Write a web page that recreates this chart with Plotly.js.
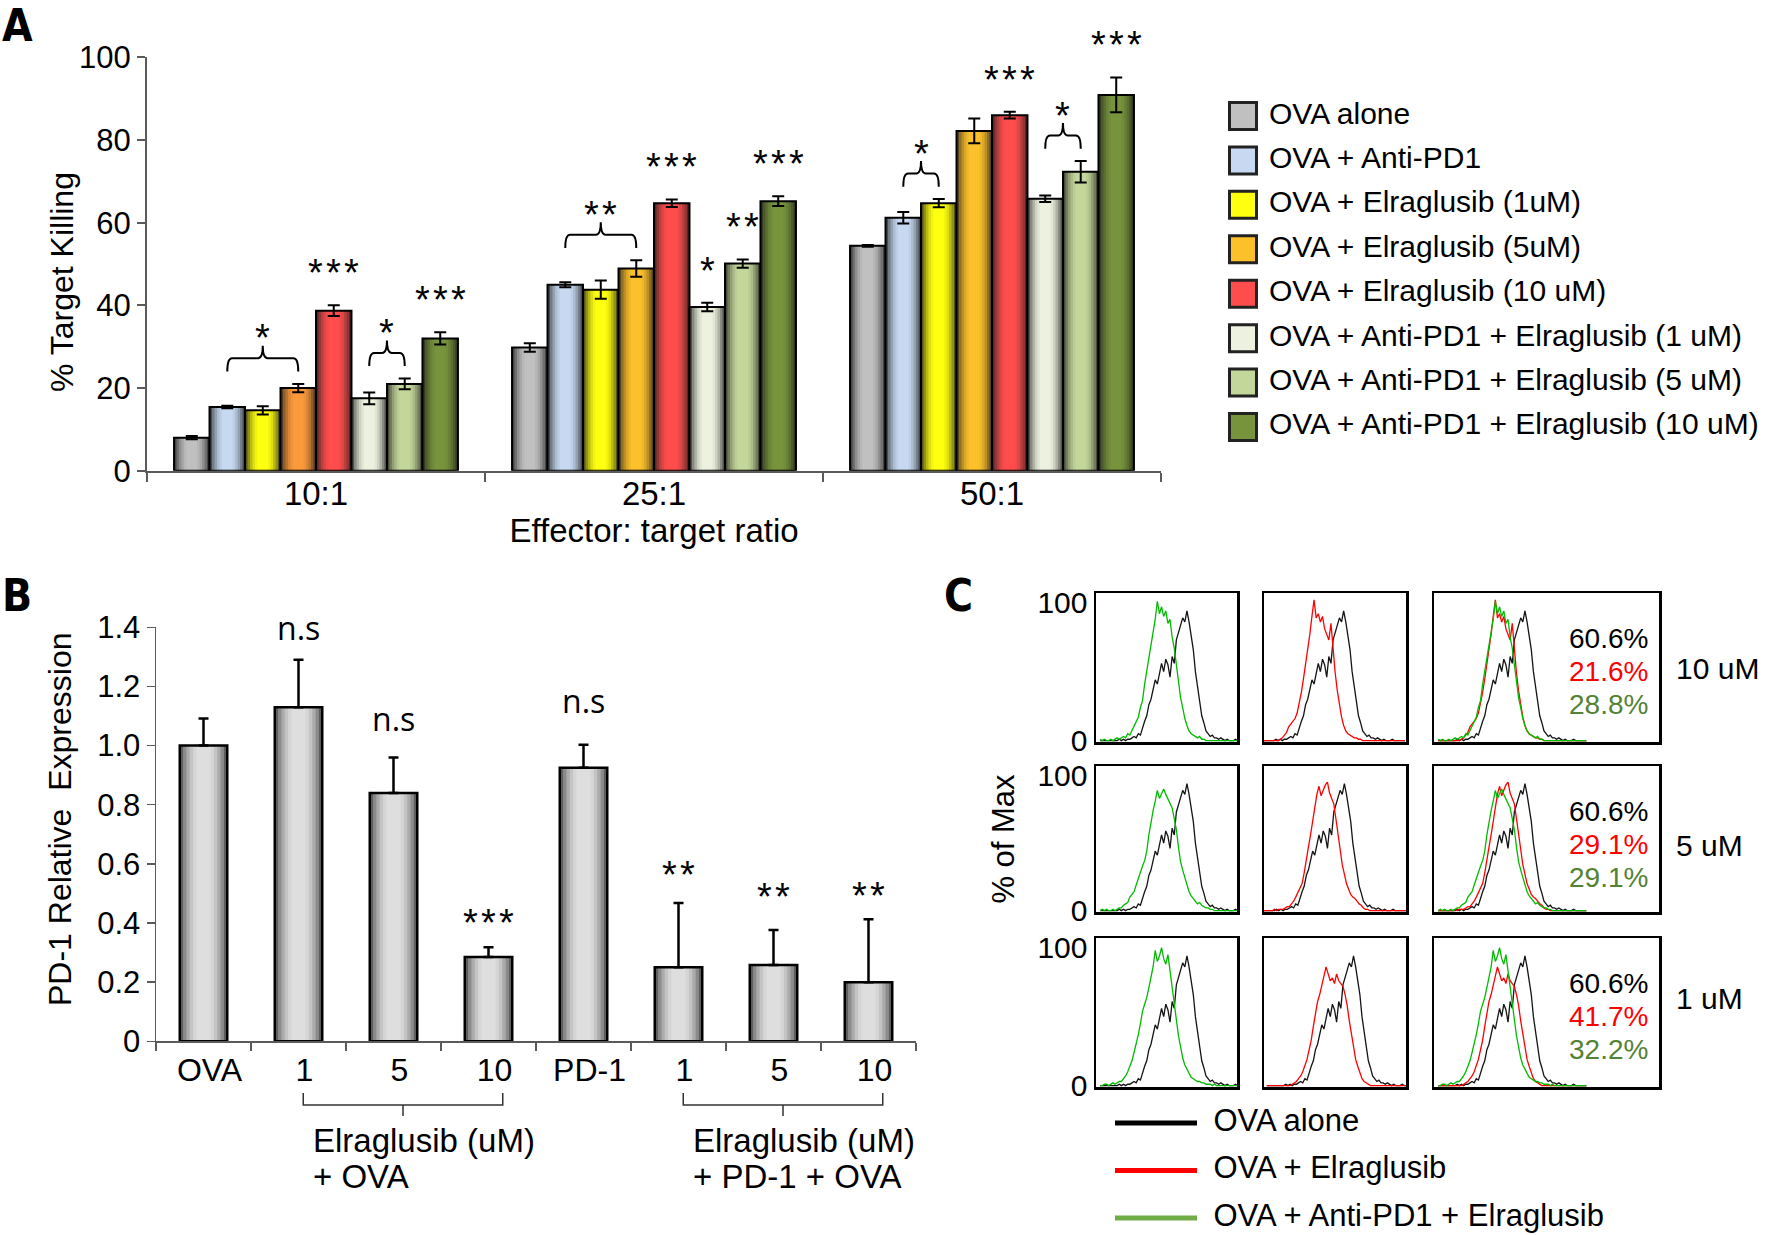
<!DOCTYPE html>
<html>
<head>
<meta charset="utf-8">
<script src="https://cdn.plot.ly/plotly-3.0.1.min.js"></script>
<style>
html, body { margin:0; padding:0; background:#ffffff; }
#fig { width:1771px; height:1235px; }
</style>
</head>
<body>
<div id="fig"></div>
<script>
// ======================= DATA =======================
// ---- Panel A : % target killing ----
const ratios = ['10:1', '25:1', '50:1'];
const seriesNames = [
  'OVA alone',
  'OVA + Anti-PD1',
  'OVA + Elraglusib (1uM)',
  'OVA + Elraglusib (5uM)',
  'OVA + Elraglusib (10 uM)',
  'OVA + Anti-PD1 + Elraglusib (1 uM)',
  'OVA + Anti-PD1 + Elraglusib (5 uM)',
  'OVA + Anti-PD1 + Elraglusib (10 uM)'
];
const killOvaAlone = [8.0, 29.8, 54.4];
const killAntiPD1  = [15.4, 45.0, 61.2];
const killElra1    = [14.6, 43.8, 64.7];
const killElra5    = [20.0, 48.9, 82.2];
const killElra10   = [38.7, 64.7, 86.0];
const killCombo1   = [17.5, 39.6, 65.8];
const killCombo5   = [21.0, 50.1, 72.3];
const killCombo10  = [32.0, 65.2, 90.9];
const errOvaAlone = [0.4, 1.0, 0.2];
const errAntiPD1  = [0.3, 0.6, 1.4];
const errElra1    = [1.0, 2.2, 1.0];
const errElra5    = [1.0, 2.0, 3.0];
const errElra10   = [1.3, 0.9, 0.8];
const errCombo1   = [1.4, 1.0, 0.8];
const errCombo5   = [1.3, 1.0, 2.6];
const errCombo10  = [1.5, 1.2, 4.2];
// significance marks (group index, first bar, last bar, label)
const sigGroup = [0, 0, 0, 0, 1, 1, 1, 1, 1, 2, 2, 2, 2];
const sigFrom  = [1, 4, 5, 7, 1, 4, 5, 6, 7, 1, 4, 5, 7];
const sigTo    = [3, 4, 6, 7, 3, 4, 5, 6, 7, 2, 4, 6, 7];
const sigLabel = ['*', '***', '*', '***', '**', '***', '*', '**', '***', '*', '***', '*', '***'];

// ---- Panel B : PD-1 relative expression ----
const pd1Labels   = ['OVA', '1', '5', '10', 'PD-1', '1', '5', '10'];
const pd1Values   = [1.00, 1.13, 0.84, 0.285, 0.925, 0.25, 0.258, 0.20];
const pd1ErrUp    = [0.092, 0.16, 0.12, 0.033, 0.078, 0.218, 0.118, 0.213];
const pd1Sig      = ['', 'n.s', 'n.s', '***', 'n.s', '**', '**', '**'];
const pd1TickVals = [0, 0.2, 0.4, 0.6, 0.8, 1.0, 1.2, 1.4];
const pd1TickText = ['0', '0.2', '0.4', '0.6', '0.8', '1.0', '1.2', '1.4'];
const pd1GroupLine1 = ['Elraglusib (uM)', 'Elraglusib (uM)'];
const pd1GroupLine2 = ['+ OVA', '+ PD-1 + OVA'];
const pd1GroupFrom  = [1, 5];
const pd1GroupTo    = [3, 7];

// ---- Panel C : flow histograms (% of max vs channel; bins start 3, step 1.5) ----
const concLabels = ['10 uM', '5 uM', '1 uM'];
const pctOvaAlone = ['60.6%', '60.6%', '60.6%'];
const pctElra     = ['21.6%', '29.1%', '41.7%'];
const pctCombo    = ['28.8%', '29.1%', '32.2%'];
const cLegendNames = ['OVA alone', 'OVA + Elraglusib', 'OVA + Anti-PD1 + Elraglusib'];
const histOvaAlone = [0,0,0,0,0,0,0,0,0,1, 0,1,0,1,1,2,3,2,5,4, 10,14,18,26,30,36,44,41,49,56,
  50,59,55,46,61,56,73,79,85,89, 86,94,86,77,66,50,39,28,18,13, 7,5,3,4,2,2,1,2,1,0, 1,0,0,0,1,0,0,0,0,0,0];
const histElra10 = [0,0,0,0,0,0,0,0,0,0, 0,1,2,4,6,10,12,14,16,20, 27,35,45,55,64,77,90,102,89,92,
  86,90,81,77,73,85,66,49,36,26, 17,11,7,5,4,3,2,2,1,1, 0,0,0,0,0,0,0,0,0,0, 0,0,0,0,0,0,0,0,0,0,0];
const histElra5 = [0,0,0,0,0,0,0,0,1,0, 1,1,1,2,3,3,5,7,10,13, 16,20,28,39,47,56,66,78,86,92,
  85,89,93,95,87,83,79,68,56,43, 34,27,20,16,12,10,9,7,5,4, 2,1,1,0,0,0,0,0,0,0, 0,0,0,0,0,0,0,0,0,0,0];
const histElra1 = [0,0,0,0,0,0,0,0,0,0, 0,0,1,2,3,5,7,10,14,19, 26,33,43,52,61,66,73,80,86,81,
  76,78,74,81,76,74,72,66,58,47, 37,27,19,14,9,5,3,2,1,0, 0,0,0,0,0,0,0,0,0,0, 0,0,0,0,0,0,0,0,0,0,0];
const histCombo10 = [1,0,1,0,0,1,0,1,2,1, 2,3,2,5,4,7,10,13,17,24, 29,41,50,62,71,79,88,101,92,97,
  90,94,85,88,75,67,54,43,31,24, 16,11,7,5,4,3,2,3,1,1, 0,0,0,0,0,0,0,0,0,0, 0,0,0,0,0,0,0,0,0,0,0];
const histCombo5 = [0,1,0,1,0,0,1,0,1,2, 2,4,5,6,10,12,14,19,24,28, 33,37,44,56,66,74,81,89,83,87,
  90,86,83,79,76,68,60,47,36,30, 24,18,14,11,9,7,5,6,4,3, 2,2,1,1,0,0,0,0,0,0, 0,0,0,0,0,0,0,0,0,0,0];
const histCombo1 = [0,0,1,1,0,1,2,1,2,3, 3,5,7,10,14,18,24,30,37,45, 54,59,64,71,78,86,98,90,94,100,
  92,88,95,83,71,56,45,36,28,20, 15,12,9,6,5,4,3,3,2,2, 1,1,1,0,1,0,0,0,0,0, 0,0,0,0,0,0,0,0,0,0,0];

// ======================= STYLE / LAYOUT =======================
const W = 1771, H = 1235;
const fx = p => p / W;
const fy = p => 1 - p / H;
const FONT = 'Liberation Sans, Arial, sans-serif';
const LETTER_FONT = 'Liberation Sans Narrow, DejaVu Sans Condensed, Liberation Sans, Arial, sans-serif';
const AX = '#5a5a5a';

function hex2rgb(h) { h = h.replace('#', ''); return [0, 2, 4].map(i => parseInt(h.slice(i, i + 2), 16)); }
function mix(a, b, t) {
  const A = hex2rgb(a), B = hex2rgb(b);
  return '#' + A.map((v, i) => Math.round(v + (B[i] - v) * t).toString(16).padStart(2, '0')).join('');
}
const layerFrac = [1.0, 0.86, 0.72, 0.58, 0.44, 0.3];
const layerMix  = [0.0, 0.35, 0.6, 0.8, 0.93, 1.0];

const killValues = [killOvaAlone, killAntiPD1, killElra1, killElra5, killElra10, killCombo1, killCombo5, killCombo10];
const killErrors = [errOvaAlone, errAntiPD1, errElra1, errElra5, errElra10, errCombo1, errCombo5, errCombo10];
const colorsA = [
  ['#c0c0c0', '#c0c0c0', '#c0c0c0'],
  ['#c6d9f1', '#c6d9f1', '#c6d9f1'],
  ['#ffff10', '#ffff10', '#ffff10'],
  ['#fa9a3a', '#fcc02a', '#fcc02a'],
  ['#ff4d4d', '#ff4d4d', '#ff4d4d'],
  ['#ecf2df', '#ecf2df', '#ecf2df'],
  ['#c4d79b', '#c4d79b', '#c4d79b'],
  ['#77933c', '#77933c', '#77933c']
];

// axis domains (page pixels -> paper)
const A_X_DOM = [fx(147), fx(1161)], A_Y_DOM = [fy(470.7), fy(57.3)], A_Y_MAX = 100;
const B_X_DOM = [fx(156), fx(916)],  B_Y_DOM = [fy(1041.3), fy(627.3)], B_Y_MAX = 1.4;
const aPaperY = v => A_Y_DOM[0] + (v / A_Y_MAX) * (A_Y_DOM[1] - A_Y_DOM[0]);
const bPaperY = v => B_Y_DOM[0] + (v / B_Y_MAX) * (B_Y_DOM[1] - B_Y_DOM[0]);
const STARS = s => s.split('').join('\u200a');
// vertical gap (axis units) between the top of each B error bar and its label
const pd1SigPad = [0, 0.11, 0.13, 0.10, 0.15, 0.11, 0.13, 0.095];

const traces = [];
const annotations = [];
const shapes = [];

// ---------- Panel A bars ----------
const nSeries = seriesNames.length;
const A_GROUP = 0.84, A_BAR = A_GROUP / nSeries;
const aOffset = k => -A_GROUP / 2 + A_BAR * (k + 0.5);
const groupX = ratios.map((_, i) => i);
seriesNames.forEach((name, k) => {
  const centers = colorsA[k];
  const edges = centers.map(c => mix(c, '#1c1c1c', 0.75));
  layerFrac.forEach((f, j) => {
    traces.push({
      type: 'bar', x: groupX, y: killValues[k], xaxis: 'x', yaxis: 'y',
      width: A_BAR * f, offset: aOffset(k) - A_BAR * f / 2,
      marker: { color: centers.map((c, g) => mix(edges[g], c, layerMix[j])), line: { width: 0 } },
      showlegend: false, hoverinfo: 'skip'
    });
  });
  traces.push({
    type: 'bar', x: groupX, y: killValues[k], xaxis: 'x', yaxis: 'y', name: name,
    width: A_BAR, offset: aOffset(k) - A_BAR / 2,
    marker: { color: 'rgba(0,0,0,0)', line: { width: 2, color: '#000' } },
    error_y: { type: 'data', array: killErrors[k], visible: true, color: '#000', thickness: 2, width: 6 },
    showlegend: false, hoverinfo: 'skip'
  });
});

// significance marks A
sigLabel.forEach((lab, s) => {
  const g = sigGroup[s], a = sigFrom[s], b = sigTo[s];
  let top = -Infinity;
  for (let k = a; k <= b; k++) top = Math.max(top, killValues[k][g] + killErrors[k][g]);
  const xa = g + aOffset(a), xb = g + aOffset(b);
  let labelY;
  if (a === b) {
    labelY = top + 9;
  } else {
    const yb = top + 3, yh = yb + 3.2, yt = yh + 3, xm = (xa + xb) / 2, c = 0.014;
    shapes.push({
      type: 'path', xref: 'x', yref: 'y', layer: 'above',
      path: `M ${xa},${yb} Q ${xa},${yh} ${xa + c},${yh} L ${xm - c},${yh} Q ${xm},${yh} ${xm},${yt} Q ${xm},${yh} ${xm + c},${yh} L ${xb - c},${yh} Q ${xb},${yh} ${xb},${yb}`,
      line: { color: '#000', width: 2 }
    });
    labelY = yt + 3;
  }
  annotations.push({ xref: 'x', yref: 'paper', x: (xa + xb) / 2, y: aPaperY(labelY), text: STARS(lab), showarrow: false,
    font: { size: 38, family: FONT, color: '#000' }, yanchor: 'middle', yshift: -5 });
});

// legend A (square swatches + labels on their own axis)
const legendIdx = seriesNames.map((_, i) => i);
traces.push({
  type: 'scatter', mode: 'markers', x: seriesNames.map(() => 0), y: legendIdx, xaxis: 'x3', yaxis: 'y3',
  marker: { symbol: 'square', size: 27, color: colorsA.map(c => c[1]), line: { color: '#222', width: 3 } },
  showlegend: false, hoverinfo: 'skip', cliponaxis: false
});
traces.push({
  type: 'scatter', mode: 'text', x: seriesNames.map(() => 0.93), y: legendIdx, xaxis: 'x3', yaxis: 'y3',
  text: seriesNames, textposition: 'middle right', textfont: { size: 30, family: FONT, color: '#000' },
  showlegend: false, hoverinfo: 'skip', cliponaxis: false
});

// y title A
annotations.push({ xref: 'paper', yref: 'paper', x: fx(62), y: fy(282), textangle: -90, text: '% Target Killing',
  showarrow: false, xanchor: 'center', yanchor: 'middle', font: { size: 32, family: FONT, color: '#000' } });

// ---------- Panel B bars ----------
const pd1X = pd1Labels.map((_, i) => i);
const B_BAR = 0.5;
layerFrac.forEach((f, j) => {
  traces.push({
    type: 'bar', x: pd1X, y: pd1Values, xaxis: 'x2', yaxis: 'y2',
    width: B_BAR * f, offset: -B_BAR * f / 2,
    marker: { color: mix('#5e5e5e', '#dedede', layerMix[j]), line: { width: 0 } },
    showlegend: false, hoverinfo: 'skip'
  });
});
traces.push({
  type: 'bar', x: pd1X, y: pd1Values, xaxis: 'x2', yaxis: 'y2',
  width: B_BAR, offset: -B_BAR / 2,
  marker: { color: 'rgba(0,0,0,0)', line: { width: 2.5, color: '#000' } },
  error_y: { type: 'data', symmetric: false, array: pd1ErrUp, arrayminus: pd1ErrUp.map(() => 0),
    visible: true, color: '#000', thickness: 2.5, width: 5 },
  showlegend: false, hoverinfo: 'skip'
});
pd1Sig.forEach((lab, i) => {
  if (!lab) return;
  const ns = lab === 'n.s';
  annotations.push({ xref: 'x2', yref: 'paper', x: i, y: bPaperY(pd1Values[i] + pd1ErrUp[i] + pd1SigPad[i]), text: ns ? lab : STARS(lab),
    showarrow: false, yanchor: 'middle', yshift: ns ? 0 : -5,
    font: ns ? { size: 32, family: 'Open Sans, Liberation Sans, sans-serif', color: '#000' } : { size: 38, family: FONT, color: '#000' } });
});
// y title B
annotations.push({ xref: 'paper', yref: 'paper', x: fx(60), y: fy(820), textangle: -90, text: 'PD-1 Relative\u00a0 Expression',
  showarrow: false, xanchor: 'center', yanchor: 'middle', font: { size: 32, family: FONT, color: '#000' } });
// group brackets under B axis
pd1GroupFrom.forEach((a, gi) => {
  const b = pd1GroupTo[gi];
  const x0 = a + 0.05, x1 = b + 0.15, xm = (x0 + x1) / 2;
  const ya = fy(1093), yh = fy(1105), yt = fy(1116);
  shapes.push({ type: 'path', xref: 'x2', yref: 'paper', layer: 'above',
    path: `M ${x0},${ya} L ${x0},${yh} L ${x1},${yh} L ${x1},${ya} M ${xm},${yh} L ${xm},${yt}`,
    line: { color: '#333', width: 1.5 } });
  annotations.push({ xref: 'x2', yref: 'paper', x: a, xshift: 12, xanchor: 'left', y: fy(1140), yanchor: 'middle',
    text: pd1GroupLine1[gi], showarrow: false, font: { size: 33, family: FONT, color: '#000' } });
  annotations.push({ xref: 'x2', yref: 'paper', x: a, xshift: 12, xanchor: 'left', y: fy(1176), yanchor: 'middle',
    text: pd1GroupLine2[gi], showarrow: false, font: { size: 33, family: FONT, color: '#000' } });
});

// ---------- Panel C histograms ----------
const histElra  = [histElra10, histElra5, histElra1];
const histCombo = [histCombo10, histCombo5, histCombo1];
const colL = [1096, 1264, 1434], colR = [1237, 1406, 1659];
const rowT = [593, 766, 938], rowB = [742, 912, 1087];
const col2Shift = [8, 7.5, 1];
const HIST_BLACK = '#141414', HIST_RED = '#ff0000', HIST_GREEN = '#00bb00';
const C_Y_RANGE = [-1, 107];
const layout = {};
function histTrace(y, color, n) {
  return { type: 'scatter', mode: 'lines', x0: 3, dx: 1.5, y: y, xaxis: 'x' + n, yaxis: 'y' + n,
    line: { color: color, width: 1.3 }, showlegend: false, hoverinfo: 'skip' };
}
for (let r = 0; r < 3; r++) {
  for (let c = 0; c < 3; c++) {
    const n = 5 + r * 3 + c;
    const widthCh = 100 * (colR[c] - colL[c]) / (colR[0] - colL[0]);
    const x0 = c === 1 ? col2Shift[r] : 0;
    layout['xaxis' + n] = { domain: [fx(colL[c]), fx(colR[c])], range: [x0, x0 + widthCh], anchor: 'y' + n,
      showline: true, mirror: true, linecolor: '#000', linewidth: 2.5, ticks: '', showticklabels: false,
      showgrid: false, zeroline: false, fixedrange: true };
    layout['yaxis' + n] = { domain: [fy(rowB[r]), fy(rowT[r])], range: C_Y_RANGE, anchor: 'x' + n,
      showline: true, mirror: true, linecolor: '#000', linewidth: 2.5, ticks: '',
      showticklabels: c === 0, tickvals: [0, 100], ticktext: ['0', '100'], tickfont: { size: 30, family: FONT, color: '#000' },
      showgrid: false, zeroline: false, fixedrange: true };
    if (r === 1 && c === 0) {
      layout['yaxis' + n].title = { text: '% of Max', font: { size: 31, family: FONT, color: '#000' }, standoff: 14 };
    }
    traces.push(histTrace(histOvaAlone, HIST_BLACK, n));
    if (c === 1 || c === 2) traces.push(histTrace(histElra[r], HIST_RED, n));
    if (c === 0 || c === 2) traces.push(histTrace(histCombo[r], HIST_GREEN, n));
  }
  // percentages
  const pcts = [pctOvaAlone[r], pctElra[r], pctCombo[r]];
  const pctColors = ['#000000', '#ff0000', '#548235'];
  const pctOff = [45, 78, 111];
  pcts.forEach((t, i) => annotations.push({ xref: 'paper', yref: 'paper', x: fx(1650), xanchor: 'right',
    y: fy(rowT[r] + pctOff[i]), yanchor: 'middle', text: t, showarrow: false,
    font: { size: 28, family: FONT, color: pctColors[i] } }));
}
const concY = [668, 845, 998];
concLabels.forEach((t, r) => annotations.push({ xref: 'paper', yref: 'paper', x: fx(1674), xanchor: 'left',
  y: fy(concY[r]), yanchor: 'middle', text: t, showarrow: false, font: { size: 30, family: FONT, color: '#000' } }));

// legend C (lines + labels on their own axis)
const cLegendColors = ['#000000', '#ff0000', '#70ad47'];
cLegendNames.forEach((name, i) => {
  traces.push({ type: 'scatter', mode: 'lines', x: [0, 1], y: [i, i], xaxis: 'x4', yaxis: 'y4',
    line: { color: cLegendColors[i], width: 5 }, showlegend: false, hoverinfo: 'skip', cliponaxis: false });
});
traces.push({ type: 'scatter', mode: 'text', x: cLegendNames.map(() => 1.2), y: cLegendNames.map((_, i) => i),
  xaxis: 'x4', yaxis: 'y4', text: cLegendNames, textposition: 'middle right',
  textfont: { size: 31, family: FONT, color: '#000' }, showlegend: false, hoverinfo: 'skip', cliponaxis: false });

// panel letters
[['A', 0, 0], ['B', 0, 574], ['C', 942, 574]].forEach(([t, x, y]) => annotations.push({
  xref: 'paper', yref: 'paper', x: fx(x), y: fy(y), xanchor: 'left', yanchor: 'top', yshift: y === 0 ? 2 : 6, text: '<b>' + t + '</b>',
  showarrow: false, font: { size: 44, family: LETTER_FONT, color: '#000' } }));

const hiddenAxis = { showline: false, showgrid: false, zeroline: false, showticklabels: false, ticks: '', fixedrange: true };

Object.assign(layout, {
  width: W, height: H,
  margin: { l: 0, r: 0, t: 0, b: 0, pad: 0 },
  paper_bgcolor: '#ffffff', plot_bgcolor: 'rgba(0,0,0,0)',
  barmode: 'overlay', showlegend: false,
  font: { family: FONT, color: '#000', size: 30 },
  xaxis: {
    domain: A_X_DOM, range: [-0.5, 2.5], anchor: 'y',
    tickvals: groupX, ticktext: ratios, ticks: '', ticklabelstandoff: -7, tickfont: { size: 33, family: FONT, color: '#000' },
    minor: { tickmode: 'array', tickvals: [-0.5, 0.5, 1.5, 2.5], ticks: 'outside', ticklen: 9, tickwidth: 2, tickcolor: AX, showgrid: false },
    showline: true, linecolor: AX, linewidth: 2, showgrid: false, zeroline: false, fixedrange: true,
    title: { text: 'Effector: target ratio', font: { size: 33, family: FONT, color: '#000' }, standoff: 6 }
  },
  yaxis: {
    domain: A_Y_DOM, range: [0, A_Y_MAX], anchor: 'x', dtick: 20,
    ticks: 'outside', ticklen: 8, tickwidth: 2, tickcolor: AX, tickfont: { size: 31, family: FONT, color: '#000' },
    showline: true, linecolor: AX, linewidth: 2, showgrid: false, zeroline: false, fixedrange: true
  },
  xaxis2: {
    domain: B_X_DOM, range: [-0.5, pd1Labels.length - 0.5], anchor: 'y2',
    tickvals: pd1X, ticktext: pd1Labels, ticks: '', ticklabelshift: 6, tickfont: { size: 32, family: FONT, color: '#000' },
    minor: { tickmode: 'array', tickvals: pd1Labels.map((_, i) => i - 0.5).concat([pd1Labels.length - 0.5]), ticks: 'outside', ticklen: 8, tickwidth: 1.5, tickcolor: AX, showgrid: false },
    showline: true, linecolor: AX, linewidth: 1.5, showgrid: false, zeroline: false, fixedrange: true
  },
  yaxis2: {
    domain: B_Y_DOM, range: [0, B_Y_MAX], anchor: 'x2',
    tickvals: pd1TickVals, ticktext: pd1TickText,
    ticks: 'outside', ticklen: 8, tickwidth: 1.5, tickcolor: AX, tickfont: { size: 31, family: FONT, color: '#000' },
    showline: true, linecolor: AX, linewidth: 1.5, showgrid: false, zeroline: false, fixedrange: true
  },
  xaxis3: Object.assign({ domain: [fx(1229), 1], range: [-0.5, -0.5 + (W - 1229) / 28], anchor: 'y3' }, hiddenAxis),
  yaxis3: Object.assign({ domain: [fy(449.2), fy(93.8)], range: [7.5, -0.5], anchor: 'x3' }, hiddenAxis),
  xaxis4: Object.assign({ domain: [fx(1115), 1], range: [0, (W - 1115) / 82], anchor: 'y4' }, hiddenAxis),
  yaxis4: Object.assign({ domain: [fy(1230), fy(1100)], range: [2.2526, -0.484], anchor: 'x4' }, hiddenAxis),
  annotations: annotations,
  shapes: shapes
});

Plotly.newPlot('fig', traces, layout, { staticPlot: true, displayModeBar: false, responsive: false });
</script>
</body>
</html>
